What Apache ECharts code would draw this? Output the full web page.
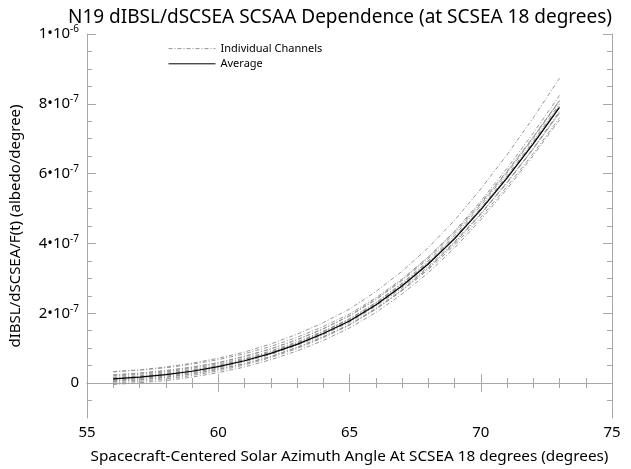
<!DOCTYPE html>
<html>
<head>
<meta charset="utf-8">
<style>
  html, body { margin: 0; padding: 0; background: #fff; }
  #chart { width: 631px; height: 469px; }
</style>
<script src="https://cdn.jsdelivr.net/npm/echarts@6/dist/echarts.min.js"></script>
</head>
<body>
<div id="chart"></div>
<script>
// Spacecraft-centered solar azimuth angle (degrees)
const azimuth = [56, 57, 58, 59, 60, 61, 62, 63, 64, 65, 66, 67, 68, 69, 70, 71, 72, 73];

// dIBSL/dSCSEA/F(t), in units of 1e-6 albedo/degree
const average = [0.012, 0.017, 0.024, 0.034, 0.047, 0.064, 0.085, 0.111, 0.142, 0.178, 0.224, 0.278, 0.341, 0.413, 0.496, 0.587, 0.685, 0.790];

const channel01 = [0.033, 0.038, 0.046, 0.057, 0.071, 0.089, 0.112, 0.140, 0.173, 0.212, 0.262, 0.320, 0.388, 0.466, 0.556, 0.654, 0.760, 0.873];
const channel02 = [0.032, 0.037, 0.044, 0.054, 0.067, 0.084, 0.105, 0.131, 0.162, 0.198, 0.244, 0.298, 0.361, 0.433, 0.516, 0.607, 0.705, 0.810];
const channel03 = [0.022, 0.028, 0.035, 0.045, 0.058, 0.076, 0.098, 0.124, 0.156, 0.193, 0.241, 0.296, 0.361, 0.435, 0.521, 0.615, 0.716, 0.824];
const channel04 = [0.024, 0.029, 0.036, 0.046, 0.059, 0.077, 0.098, 0.124, 0.155, 0.192, 0.238, 0.293, 0.356, 0.429, 0.513, 0.605, 0.704, 0.810];
const channel05 = [0.020, 0.025, 0.032, 0.042, 0.055, 0.071, 0.092, 0.118, 0.149, 0.184, 0.230, 0.283, 0.346, 0.417, 0.499, 0.589, 0.686, 0.790];
const channel06 = [0.014, 0.019, 0.026, 0.037, 0.050, 0.067, 0.089, 0.115, 0.147, 0.184, 0.230, 0.286, 0.350, 0.423, 0.508, 0.601, 0.701, 0.808];
const channel07 = [0.016, 0.021, 0.028, 0.038, 0.051, 0.068, 0.089, 0.115, 0.146, 0.182, 0.228, 0.282, 0.345, 0.417, 0.500, 0.591, 0.689, 0.794];
const channel08 = [0.012, 0.017, 0.024, 0.033, 0.046, 0.063, 0.083, 0.109, 0.139, 0.174, 0.220, 0.272, 0.334, 0.405, 0.486, 0.575, 0.671, 0.774];
const channel09 = [0.008, 0.013, 0.020, 0.030, 0.043, 0.061, 0.082, 0.108, 0.139, 0.176, 0.222, 0.277, 0.340, 0.413, 0.497, 0.589, 0.688, 0.794];
const channel10 = [0.004, 0.009, 0.016, 0.026, 0.039, 0.055, 0.076, 0.102, 0.133, 0.168, 0.214, 0.267, 0.330, 0.401, 0.483, 0.573, 0.670, 0.774];
const channel11 = [0.006, 0.010, 0.017, 0.027, 0.040, 0.056, 0.076, 0.102, 0.132, 0.167, 0.211, 0.264, 0.325, 0.395, 0.475, 0.563, 0.658, 0.760];
const channel12 = [0.000, 0.005, 0.012, 0.022, 0.035, 0.052, 0.073, 0.099, 0.130, 0.166, 0.212, 0.266, 0.329, 0.401, 0.484, 0.575, 0.673, 0.778];
const channel13 = [-0.004, 0.001, 0.007, 0.017, 0.030, 0.046, 0.067, 0.092, 0.122, 0.158, 0.202, 0.255, 0.316, 0.387, 0.468, 0.556, 0.652, 0.754];
const channel14 = [0.010, 0.015, 0.022, 0.033, 0.046, 0.063, 0.084, 0.111, 0.142, 0.179, 0.225, 0.280, 0.344, 0.417, 0.501, 0.594, 0.693, 0.800];

const channels = [channel01, channel02, channel03, channel04, channel05, channel06, channel07,
                  channel08, channel09, channel10, channel11, channel12, channel13, channel14];

// Y tick positions (1e-6 units) and their labels as mantissa • 10^exponent
const yMajorTicks = [0, 0.2, 0.4, 0.6, 0.8, 1.0];
const yTickMantissa = ['0', '2', '4', '6', '8', '1'];
const yTickExponent = ['', '-7', '-7', '-7', '-7', '-6'];
const yMinorTicks = [-0.05, 0.05, 0.1, 0.15, 0.25, 0.3, 0.35, 0.45, 0.5, 0.55, 0.65, 0.7, 0.75, 0.85, 0.9, 0.95];

const FONT = '"Noto Sans", "Open Sans", sans-serif';
const AXIS_GRAY = '#a8a8a8';
const CHANNEL_GRAY = '#969696';

const pairs = (vals) => azimuth.map((x, i) => [x, vals[i]]);

const series = channels.map((vals) => ({
  type: 'line',
  name: 'Individual Channels',
  xAxisIndex: 0,
  yAxisIndex: 0,
  data: pairs(vals),
  symbol: 'none',
  lineStyle: { color: CHANNEL_GRAY, width: 1, type: [4, 2, 1, 2] },
  itemStyle: { color: CHANNEL_GRAY },
  z: 2
}));
series.push({
  type: 'line',
  name: 'Average',
  xAxisIndex: 0,
  yAxisIndex: 0,
  data: pairs(average),
  symbol: 'none',
  lineStyle: { color: '#000', width: 1.2 },
  itemStyle: { color: '#000' },
  z: 3
});

const xCommon = {
  type: 'value', min: 55, max: 75, interval: 5,
  axisLine: { show: true, lineStyle: { color: AXIS_GRAY, width: 1 } },
  axisTick: { show: true, inside: true, length: 9, lineStyle: { color: AXIS_GRAY } },
  minorTick: { show: true, splitNumber: 5, length: 5, lineStyle: { color: AXIS_GRAY } },
  splitLine: { show: false }
};

const yBase = {
  type: 'value', min: -0.1, max: 1.0,
  splitLine: { show: false }
};

const yMajor = (pos, showLabel) => Object.assign({}, yBase, {
  position: pos,
  offset: 0,
  axisLine: { show: true, onZero: false, lineStyle: { color: AXIS_GRAY, width: 1 } },
  axisTick: { show: true, inside: true, length: 9, customValues: yMajorTicks, lineStyle: { color: AXIS_GRAY } },
  axisLabel: showLabel ? {
    show: true,
    customValues: yMajorTicks,
    margin: 8,
    formatter: (v) => {
      const i = yMajorTicks.findIndex((t) => Math.abs(t - v) < 1e-9);
      if (i < 0) return '';
      if (!yTickExponent[i]) return '{m|' + yTickMantissa[i] + '}';
      return '{m|' + yTickMantissa[i] + '•10}{e|' + yTickExponent[i] + '}';
    },
    rich: {
      m: { fontSize: 15, color: '#000', fontFamily: FONT },
      e: { fontSize: 10, color: '#000', fontFamily: FONT, verticalAlign: 'top', padding: [0, 0, 9, 0] }
    }
  } : { show: false }
});

const yMinor = (pos) => Object.assign({}, yBase, {
  position: pos,
  offset: 0,
  axisLine: { show: false },
  axisLabel: { show: false },
  axisTick: { show: true, inside: true, length: 5, customValues: yMinorTicks, lineStyle: { color: AXIS_GRAY } }
});

const yMain = yMajor('left', true);
yMain.name = 'dIBSL/dSCSEA/F(t) (albedo/degree)';
yMain.nameLocation = 'middle';
yMain.nameGap = 64;
yMain.nameTextStyle = { fontSize: 15, color: '#000', fontFamily: FONT };

const option = {
  animation: false,
  backgroundColor: '#fff',
  title: {
    text: 'N19 dIBSL/dSCSEA SCSAA Dependence (at SCSEA 18 degrees)',
    left: 335,
    top: 3,
    textAlign: 'center',
    textStyle: { fontSize: 19, fontWeight: 'normal', color: '#000', fontFamily: FONT }
  },
  legend: {
    data: ['Individual Channels', 'Average'],
    orient: 'vertical',
    left: 163,
    top: 38,
    itemWidth: 47,
    itemHeight: 14,
    itemGap: 4,
    selectedMode: false,
    itemStyle: { opacity: 0 },
    lineStyle: { width: 1 },
    textStyle: { fontSize: 11, color: '#000', fontFamily: FONT }
  },
  grid: { left: 85, right: 19, top: 34, bottom: 46, containLabel: false },
  xAxis: [
    Object.assign({}, xCommon, {
      position: 'bottom',
      name: 'Spacecraft-Centered Solar Azimuth Angle At SCSEA 18 degrees (degrees)',
      nameLocation: 'middle',
      nameGap: 31,
      nameTextStyle: { fontSize: 15.3, color: '#000', fontFamily: FONT },
      axisLabel: { show: true, margin: 7, fontSize: 15, color: '#000', fontFamily: FONT }
    }),
    Object.assign({}, xCommon, { position: 'top', axisLabel: { show: false } })
  ],
  yAxis: [yMain, yMinor('left'), yMajor('right', false), yMinor('right')],
  series: series
};

const chart = echarts.init(document.getElementById('chart'), null, { renderer: 'canvas' });
chart.setOption(option);
</script>
</body>
</html>
